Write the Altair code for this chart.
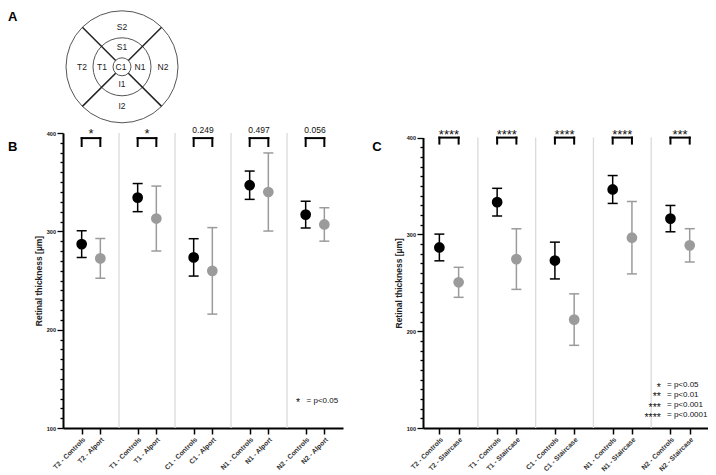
import json
import math
import altair as alt
import pandas as pd

# ---------------- data ----------------
regions = ["T2", "T1", "C1", "N1", "N2"]
groups_b = ["Controls", "Alport"]
groups_c = ["Controls", "Staircase"]

mean_b = [287.0, 272.5, 334.3, 313.0, 273.5, 259.8, 346.9, 340.0, 317.0, 307.0]
sd_b = [13.7, 20.2, 14.3, 33.0, 19.0, 44.0, 14.4, 39.7, 13.6, 17.0]
mean_c = [286.5, 250.5, 333.3, 274.5, 273.0, 212.0, 346.4, 296.6, 316.3, 288.7]
sd_c = [13.8, 15.5, 14.3, 31.3, 19.0, 26.6, 14.4, 37.4, 13.6, 17.2]

p_b = ["*", "*", "0.249", "0.497", "0.056"]
p_c = ["****", "****", "****", "****", "***"]

legend_stars_b = ["*"]
legend_text_b = ["= p<0.05"]
legend_stars_c = ["*", "**", "***", "****"]
legend_text_c = ["= p<0.05", "= p<0.01", "= p<0.001", "= p<0.0001"]

y_ticks = list(range(100, 401, 10))
y_title = "Retinal thickness [µm]"

# schematic (panel A)
ring_radii = [9, 29, 56]
spoke_angles = [45, 135, 225, 315]
zone_names = ["S2", "S1", "T2", "T1", "C1", "N1", "N2", "I1", "I2"]
zone_dx = [0, 0, -40, -20, -1, 18, 41, 0, 0]
zone_dy = [40, 20, 0, 0, 0, 0, 0, -17, -39]

FONT = "Liberation Sans"


def build_panel(groups, means, sds, pvals, *, width, height, xdom, yrange,
                br_top, br_bot, num_y, star_y, stars, texts, leg_xs, leg_xt,
                leg_y, letter=None):
    cats = [f"{r} - {g}" for r in regions for g in groups]
    pos = [i + i // 2 for i in range(len(cats))]
    df = pd.DataFrame({
        "pos": pos,
        "grp": [groups[i % 2] for i in range(len(cats))],
        "mean": means,
        "sd": sds,
    })
    df["lo"] = df["mean"] - df["sd"]
    df["hi"] = df["mean"] + df["sd"]

    label_expr = json.dumps(cats) + "[2*floor(datum.value/3) + datum.value % 3]"
    xscale = alt.Scale(domain=xdom, nice=False, zero=False)
    ykw = dict(domain=[100, 400], nice=False, zero=False)
    if yrange is not None:
        ykw["range"] = yrange
    yscale = alt.Scale(**ykw)

    x_axis = alt.Axis(values=pos, labelExpr=label_expr, labelAngle=-45,
                      labelFontSize=6.8, labelFontWeight="bold", labelFont=FONT,
                      labelColor="#333333",
                      labelPadding=2, tickSize=6, tickWidth=1.5, tickColor="black",
                      domainColor="black", domainWidth=2, grid=False, title=None,
                      labelOverlap=False, labelFlush=False, orient="bottom")
    y_axis = alt.Axis(values=y_ticks,
                      labelExpr="datum.value % 100 === 0 ? datum.label : ''",
                      tickSize={"condition": {"test": "datum.value % 100 === 0", "value": 6}, "value": 3},
                      tickWidth=1.3, tickColor="black", domainColor="black", domainWidth=2,
                      labelFontSize=5.5, labelFontWeight="bold", labelFont=FONT,
                      labelColor="#111111", labelPadding=1.5, title=y_title,
                      titleFontSize=8.5, titleFontWeight="bold", titleFont=FONT,
                      titleColor="#222222", titlePadding=3, grid=False,
                      labelOverlap=False, labelFlush=False, orient="left")

    def X(f):
        return alt.X(f"{f}:Q", scale=xscale, axis=x_axis)

    def Y(f):
        return alt.Y(f"{f}:Q", scale=yscale, axis=y_axis)

    color = alt.Color("grp:N", scale=alt.Scale(domain=groups, range=["#000000", "#9b9b9b"]),
                      legend=None)

    sep_df = pd.DataFrame({"pos": [3 * g - 1 for g in range(1, len(regions))]})
    sep_df["y0"] = 100
    sep_df["y1"] = 400
    seps = alt.Chart(sep_df).mark_rule(color="#dadada", strokeWidth=1.3).encode(
        x=X("pos"), y=Y("y0"), y2="y1:Q")

    bars = alt.Chart(df).mark_rule(strokeWidth=1.5).encode(
        x=X("pos"), y=Y("lo"), y2="hi:Q", color=color)
    caps = alt.Chart(df).transform_fold(["lo", "hi"], as_=["k", "v"]).mark_tick(
        orient="horizontal", size=10, thickness=1.5, opacity=1).encode(
        x=X("pos"), y=Y("v"), color=color)
    pts = alt.Chart(df).mark_circle(size=115, opacity=1).encode(
        x=X("pos"), y=Y("mean"), color=color)

    br = pd.DataFrame({
        "pos": [3 * g for g in range(len(regions))],
        "pos2": [3 * g + 1 for g in range(len(regions))],
        "mid": [3 * g + 0.5 for g in range(len(regions))],
        "p": pvals,
    })
    br["top"] = br_top
    br["bot"] = br_bot
    br["ny"] = num_y
    br["sy"] = star_y
    br_h = alt.Chart(br).mark_rule(color="black", strokeWidth=2, strokeCap="square").encode(
        x=X("pos"), x2="pos2:Q", y=Y("top"))
    br_v = alt.Chart(br).transform_fold(["pos", "pos2"], as_=["side", "xv"]).mark_rule(
        color="black", strokeWidth=2, strokeCap="square").encode(
        x=X("xv"), y=Y("top"), y2="bot:Q")
    br_num = alt.Chart(br).transform_filter("indexof(datum.p, '*') !== 0").mark_text(
        font=FONT, fontSize=8.5, color="#111111", baseline="alphabetic").encode(
        x=X("mid"), y=Y("ny"), text="p:N")
    br_star = alt.Chart(br).transform_filter("indexof(datum.p, '*') === 0").mark_text(
        font=FONT, fontSize=13, color="#111111", baseline="alphabetic").encode(
        x=X("mid"), y=Y("sy"), text="p:N")

    lg = pd.DataFrame({"s": stars, "t": texts, "y": leg_y})
    lg["xs"] = leg_xs
    lg["xt"] = leg_xt
    lg_s = alt.Chart(lg).mark_text(font=FONT, fontSize=10.5, align="right", baseline="middle",
                                   dy=2.3, color="#111111").encode(
        x=X("xs"), y=Y("y"), text="s:N")
    lg_t = alt.Chart(lg).mark_text(font=FONT, fontSize=8, align="left", baseline="middle",
                                   color="#111111").encode(
        x=X("xt"), y=Y("y"), text="t:N")

    layers = [seps, bars, caps, pts, br_h, br_v, br_num, br_star, lg_s, lg_t]
    if letter is not None:
        ldf = pd.DataFrame({"L": [letter[0]], "x": [letter[1]], "y": [letter[2]]})
        layers.append(alt.Chart(ldf).mark_text(font=FONT, fontSize=13, fontWeight="bold",
                                               align="left", baseline="middle",
                                               color="black").encode(
            x=X("x"), y=Y("y"), text="L:N"))
    return alt.layer(*layers).properties(width=width, height=height)


# ---------------- panel B (with schematic A above it) ----------------
W_B, H_B = 280, 295
data_b = build_panel(groups_b, mean_b, sd_b, p_b, width=W_B, height=H_B, xdom=[-1, 14],
                     yrange=None, br_top=394.8, br_bot=386.8, num_y=400.2, star_y=394.9,
                     stars=legend_stars_b, texts=legend_text_b, leg_xs=11.7, leg_xt=12.05,
                     leg_y=[127.4])

# schematic in pixel-like units; origin at the circle centre
cx, cy = 59, -66.2
DX = alt.Scale(domain=[-cx, W_B - cx], nice=False, zero=False)
DY = alt.Scale(domain=[cy - H_B, cy], nice=False, zero=False)

rings = pd.DataFrame({"u": [0] * len(ring_radii), "w": [0] * len(ring_radii),
                      "sz": [(2 * r) ** 2 for r in ring_radii]})
ring_layer = alt.Chart(rings).mark_point(shape="circle", filled=False, color="#555555",
                                         strokeWidth=1, opacity=1).encode(
    x=alt.X("u:Q", scale=DX, axis=None), y=alt.Y("w:Q", scale=DY, axis=None),
    size=alt.Size("sz:Q", scale=None))

r_in, r_out = ring_radii[0], ring_radii[-1]
spokes = pd.DataFrame({
    "u": [r_in * math.cos(math.radians(a)) for a in spoke_angles],
    "w": [r_in * math.sin(math.radians(a)) for a in spoke_angles],
    "u2": [r_out * math.cos(math.radians(a)) for a in spoke_angles],
    "w2": [r_out * math.sin(math.radians(a)) for a in spoke_angles],
})
spoke_layer = alt.Chart(spokes).mark_rule(color="#222222", strokeWidth=1.5).encode(
    x=alt.X("u:Q", scale=DX, axis=None), y=alt.Y("w:Q", scale=DY, axis=None),
    x2="u2:Q", y2="w2:Q")

zones = pd.DataFrame({"name": zone_names, "u": zone_dx, "w": zone_dy})
zone_layer = alt.Chart(zones).mark_text(font=FONT, fontSize=8.5, color="#222222",
                                        baseline="middle").encode(
    x=alt.X("u:Q", scale=DX, axis=None), y=alt.Y("w:Q", scale=DY, axis=None), text="name:N")

letters = pd.DataFrame({"L": ["A", "B"], "u": [-114, -114], "w": [49.5, -80.5]})
letter_layer = alt.Chart(letters).mark_text(font=FONT, fontSize=13, fontWeight="bold",
                                            align="left", baseline="middle",
                                            color="black").encode(
    x=alt.X("u:Q", scale=DX, axis=None), y=alt.Y("w:Q", scale=DY, axis=None), text="L:N")

schematic = alt.layer(ring_layer, spoke_layer, zone_layer, letter_layer).properties(
    width=W_B, height=H_B)

panel_b = alt.layer(data_b, schematic).resolve_scale(x="independent", y="independent")

# ---------------- panel C ----------------
W_C, H_C = 285, 295
panel_c = build_panel(groups_c, mean_c, sd_c, p_c, width=W_C, height=H_C, xdom=[-0.85, 13.95],
                      yrange=[H_C, 4.6], br_top=400, br_bot=393.8, num_y=400.5, star_y=398.9,
                      stars=legend_stars_c, texts=legend_text_c, leg_xs=11.5, leg_xt=11.82,
                      leg_y=[144.1, 134.1, 123.5, 113.1], letter=("C", -3.49, 390))

chart = alt.hconcat(panel_b, panel_c, spacing=80, bounds="flush").resolve_scale(
    color="independent").properties(padding=0, background="white").configure_view(stroke=None)

chart.save("out.html", embed_options={"renderer": "svg", "actions": False})
